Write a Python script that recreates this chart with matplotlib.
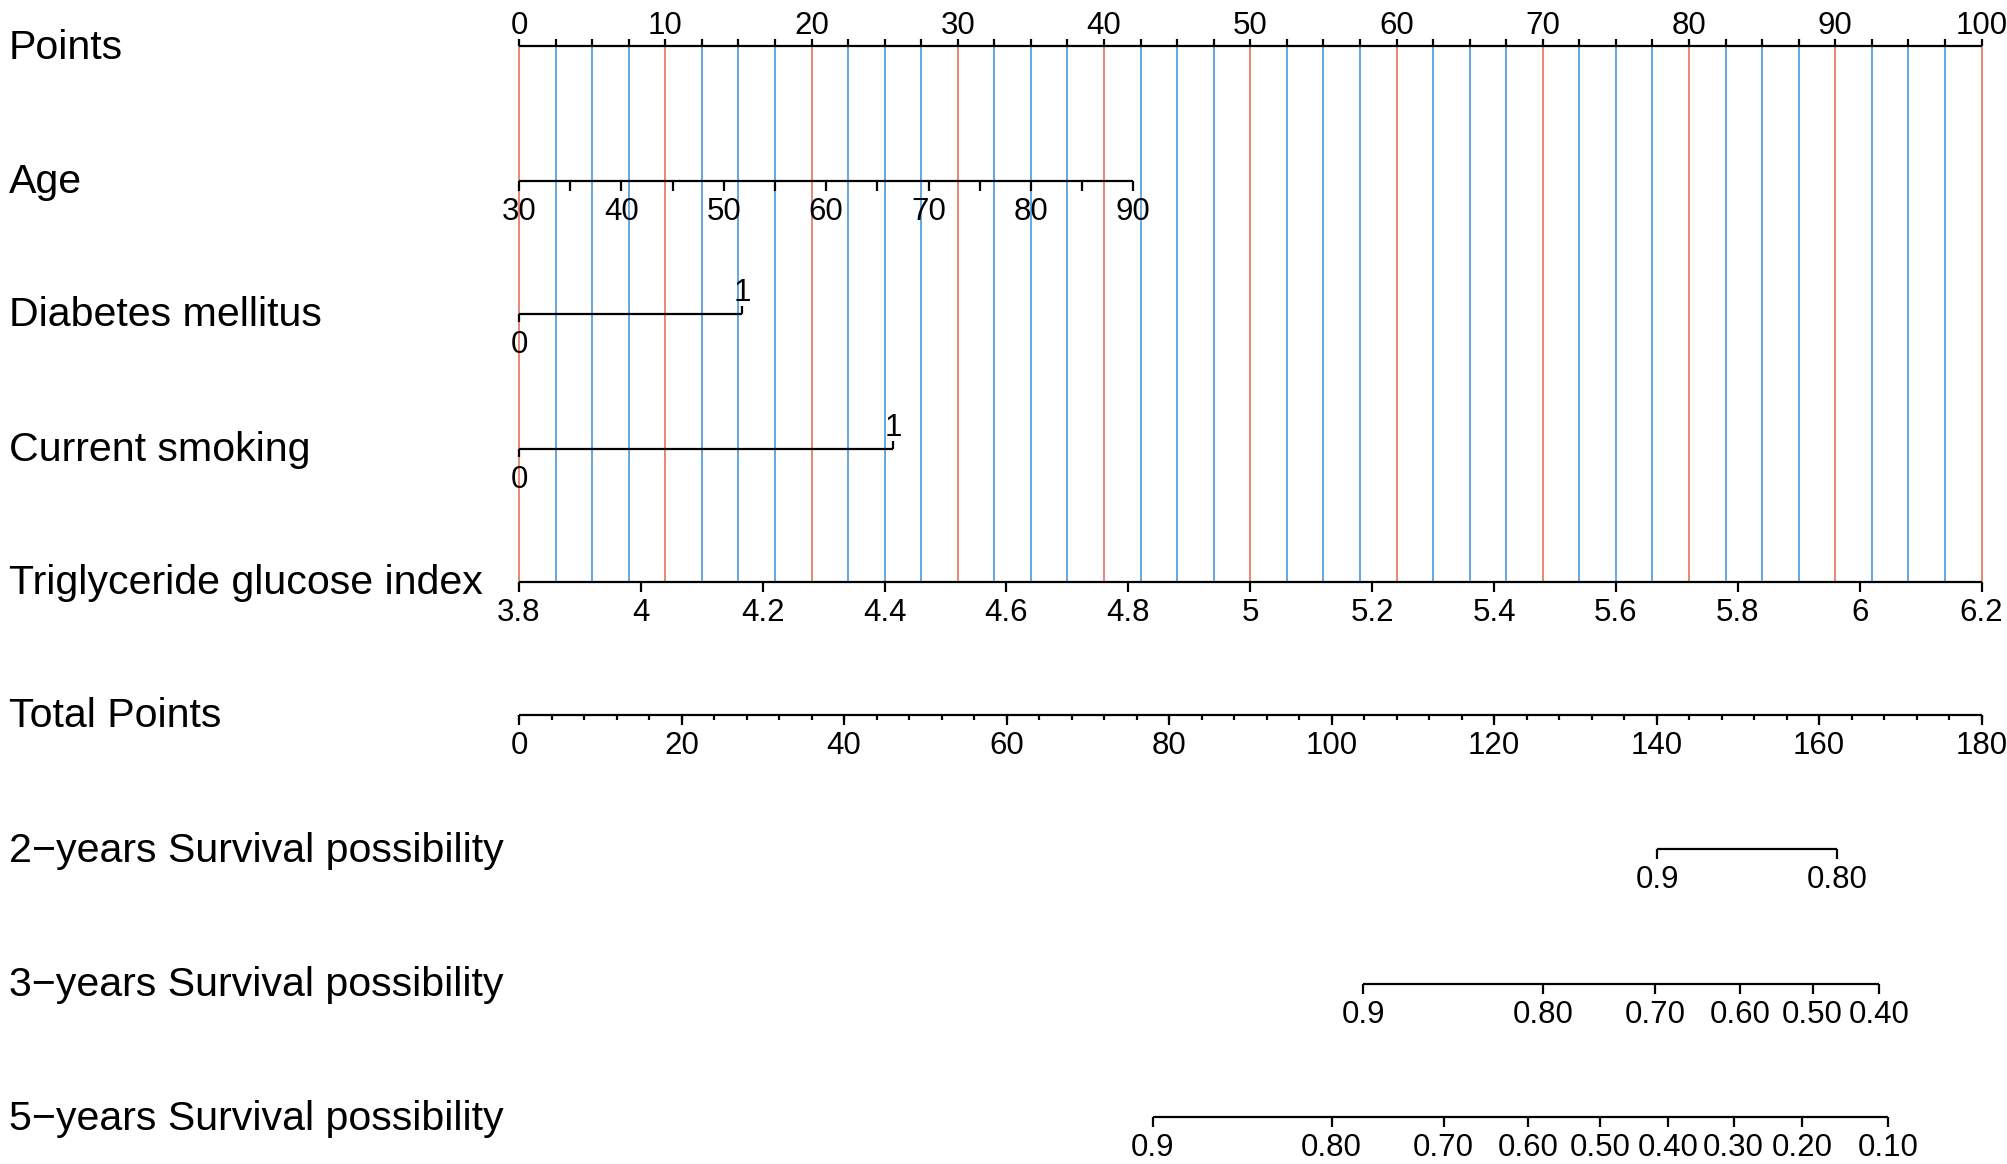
import numpy as np
import matplotlib
matplotlib.use('Agg')
import matplotlib.pyplot as plt
from matplotlib import transforms

plt.rcParams['font.family'] = ['Liberation Sans', 'DejaVu Sans']

# 노모그램 데이터
points_labels = [0, 10, 20, 30, 40, 50, 60, 70, 80, 90, 100]
points_step = 2.5

age_labels = [30, 40, 50, 60, 70, 80, 90]
age_step = 5
age_range = (30, 90)
age_points = (0, 42.0)

dm_labels = ['0', '1']
dm_points = [0, 15.25]

smoke_labels = ['0', '1']
smoke_points = [0, 25.6]

tyg_labels = ['3.8', '4', '4.2', '4.4', '4.6', '4.8', '5', '5.2', '5.4', '5.6', '5.8', '6', '6.2']
tyg_range = (3.8, 6.2)

total_labels = [0, 20, 40, 60, 80, 100, 120, 140, 160, 180]
total_step = 4
total_max = 180

surv2_labels = ['0.9', '0.80']
surv2_total = [140.1, 162.2]

surv3_labels = ['0.9', '0.80', '0.70', '0.60', '0.50', '0.40']
surv3_total = [103.9, 126.0, 139.8, 150.3, 159.2, 167.4]

surv5_labels = ['0.9', '0.80', '0.70', '0.60', '0.50', '0.40', '0.30', '0.20', '0.10']
surv5_total = [78.0, 100.0, 113.8, 124.2, 133.1, 141.4, 149.5, 157.9, 168.5]

row_names = ['Points', 'Age', 'Diabetes mellitus', 'Current smoking',
             'Triglyceride glucose index', 'Total Points',
             '2\u2212years Survival possibility', '3\u2212years Survival possibility',
             '5\u2212years Survival possibility']
row_y = [46, 180.5, 313.5, 448.5, 581.5, 714.5, 849, 983.5, 1117]

W, H = 2008, 1164
x0_px, px_per_pt = 519, 14.625

fig = plt.figure(figsize=(W / 100, H / 100), dpi=100)
ax = fig.add_axes([0, 0, 1, 1])
ax.set_xlim(-x0_px / px_per_pt, (W - x0_px) / px_per_pt)
ax.set_ylim(H, 0)
ax.axis('off')

LW = 1.6
TICK_FS = 22.5
LABEL_FS = 29.6
red = '#E5735C'
blue = '#4A98DC'


def tick_text(x, yc, s):
    ax.text(x, yc + 11.2, s, ha='center', va='baseline', fontsize=TICK_FS)


def scale_axis(y, xs, labels, label_xs, tlen, up=False, minor=None):
    ax.hlines(y, min(xs), max(xs), color='black', lw=LW, zorder=3)
    allx = xs if minor is None else minor
    sgn = -1 if up else 1
    ax.vlines(allx, y, y + sgn * tlen, color='black', lw=LW, zorder=3)
    for x, s in zip(label_xs, labels):
        tick_text(x, y - 23.5 if up else y + 28, s)


# 행 이름
blend = transforms.blended_transform_factory(ax.transAxes, ax.transData)
for name, y in zip(row_names, row_y):
    ax.text(9 / W, y + 12.7, name, transform=blend, ha='left', va='baseline', fontsize=LABEL_FS)

# 세로 기준선 (빨강: 10 단위, 파랑: 2.5 단위)
grid = np.arange(0, 100 + 0.01, points_step)
for v in grid:
    c = red if v % 10 == 0 else blue
    ax.vlines(v, row_y[0], row_y[4], color=c, lw=1.2, zorder=1)

# Points
scale_axis(row_y[0], [0, 100], [str(p) for p in points_labels], points_labels, 7,
           up=True, minor=grid)


def age_to_pts(a):
    return (np.asarray(a, float) - age_range[0]) / (age_range[1] - age_range[0]) * \
        (age_points[1] - age_points[0]) + age_points[0]


age_minor = age_to_pts(np.arange(age_range[0], age_range[1] + 1, age_step))
scale_axis(row_y[1], [0, age_points[1]], [str(a) for a in age_labels],
           age_to_pts(age_labels), 10, minor=age_minor)


def binary_axis(y, pts, labels):
    ax.hlines(y, pts[0], pts[1], color='black', lw=LW, zorder=3)
    ax.vlines(pts[0], y, y + 8, color='black', lw=LW, zorder=3)
    ax.vlines(pts[1], y, y - 8, color='black', lw=LW, zorder=3)
    tick_text(pts[0], y + 28, labels[0])
    tick_text(pts[1], y - 24, labels[1])


binary_axis(row_y[2], dm_points, dm_labels)
binary_axis(row_y[3], smoke_points, smoke_labels)

tyg_x = [(float(t) - tyg_range[0]) / (tyg_range[1] - tyg_range[0]) * 100 for t in tyg_labels]
scale_axis(row_y[4], tyg_x, tyg_labels, tyg_x, 10)

# Total Points
tp = 100 / total_max
y = row_y[5]
ax.hlines(y, 0, 100, color='black', lw=LW, zorder=3)
minor_t = np.arange(0, total_max + 0.01, total_step) * tp
ax.vlines(minor_t, y, y + 5, color='black', lw=LW, zorder=3)
ax.vlines(np.array(total_labels) * tp, y, y + 10, color='black', lw=LW, zorder=3)
for t in total_labels:
    tick_text(t * tp, y + 28, str(t))

# 생존확률 축
for yy, labs, tot in [(row_y[6], surv2_labels, surv2_total),
                      (row_y[7], surv3_labels, surv3_total),
                      (row_y[8], surv5_labels, surv5_total)]:
    xs = [t * tp for t in tot]
    scale_axis(yy, xs, labs, xs, 10)

fig.savefig('out.png', dpi=100, facecolor='white')
